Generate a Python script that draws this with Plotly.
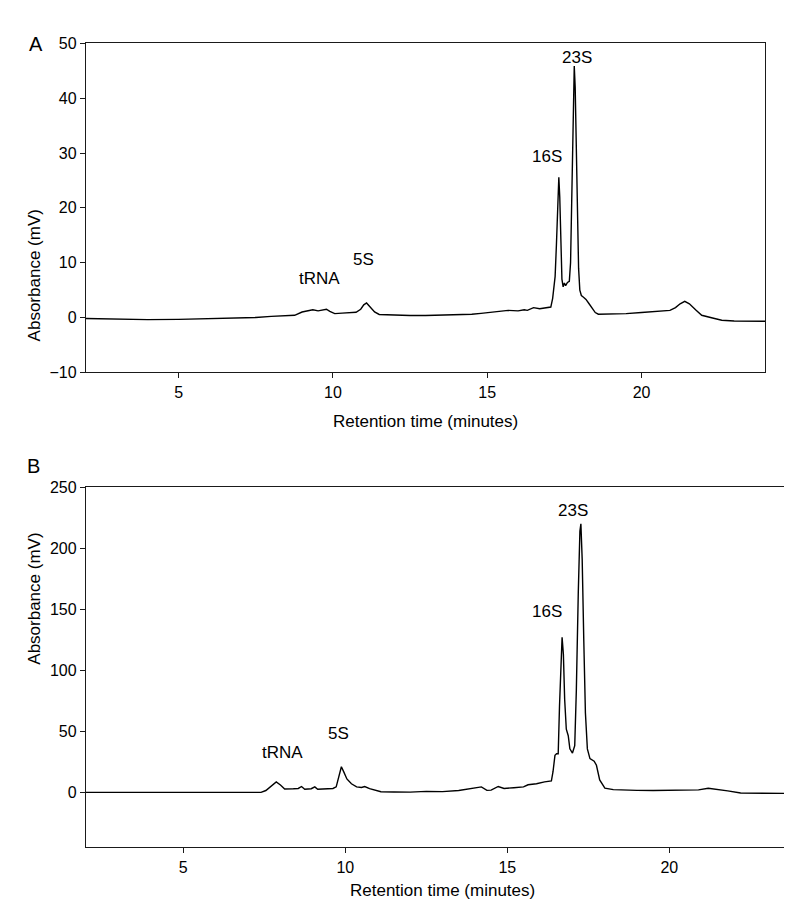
import plotly.graph_objects as go

# ---------------- Panel A data ----------------
a_time = [2.0, 3.0, 4.0, 5.0, 6.0, 7.0, 7.5, 8.0, 8.5, 8.76, 9.0, 9.2, 9.35, 9.52, 9.65, 9.79, 9.9,
          10.06, 10.3, 10.5, 10.75, 10.9, 11.0, 11.09, 11.2, 11.35, 11.5, 12.0, 12.5, 13.0, 13.5,
          14.0, 14.5, 14.8, 15.0, 15.3, 15.68, 16.0, 16.2, 16.3, 16.5, 16.7, 16.9, 17.06, 17.12,
          17.17, 17.2, 17.24, 17.28, 17.32, 17.35, 17.38, 17.42, 17.46, 17.5, 17.54, 17.6, 17.66,
          17.7, 17.74, 17.78, 17.82, 17.85, 17.88, 17.92, 17.96, 18.0, 18.05, 18.12, 18.2, 18.3,
          18.4, 18.5, 18.6, 19.0, 19.5, 20.0, 20.5, 20.92, 21.1, 21.25, 21.4, 21.55, 21.75, 21.95,
          22.3, 22.6, 23.0, 23.5, 24.0]
a_abs = [-0.2, -0.35, -0.4, -0.35, -0.25, -0.1, 0.0, 0.2, 0.3, 0.4, 1.0, 1.3, 1.4, 1.2, 1.35, 1.5, 1.1,
         0.7, 0.8, 0.9, 0.95, 1.5, 2.3, 2.65, 2.0, 1.0, 0.55, 0.4, 0.35, 0.35, 0.4,
         0.45, 0.6, 0.75, 0.85, 1.0, 1.3, 1.2, 1.4, 1.3, 1.8, 1.6, 1.7, 1.9, 3.5,
         6.2, 7.5, 13.0, 20.0, 25.6, 22.0, 14.0, 7.0, 5.6, 6.3, 5.8, 6.4, 6.6,
         10.0, 22.0, 38.0, 45.9, 42.0, 32.0, 18.0, 9.0, 5.0, 4.0, 3.7, 3.3, 2.5,
         1.6, 0.9, 0.6, 0.6, 0.7, 0.9, 1.1, 1.3, 1.8, 2.5, 2.95, 2.5, 1.4, 0.4,
         -0.1, -0.5, -0.65, -0.7, -0.7]

# ---------------- Panel B data ----------------
b_time = [2.0, 7.4, 7.55, 7.7, 7.87, 8.0, 8.13, 8.4, 8.55, 8.65, 8.75, 8.95, 9.06, 9.15, 9.4, 9.62,
          9.72, 9.8, 9.88, 9.95, 10.05, 10.19, 10.35, 10.5, 10.6, 10.75, 11.1, 11.5, 12.0, 12.5,
          13.0, 13.5, 14.0, 14.2, 14.37, 14.5, 14.72, 14.9, 15.2, 15.5, 15.64, 15.9, 16.15, 16.3,
          16.36, 16.41, 16.47, 16.52, 16.57, 16.61, 16.65, 16.69, 16.73, 16.77, 16.82, 16.88,
          16.93, 17.01, 17.08, 17.13, 17.19, 17.24, 17.27, 17.31, 17.36, 17.41, 17.47, 17.55,
          17.68, 17.75, 17.85, 18.01, 18.27, 18.6, 19.0, 19.5, 20.0, 20.5, 20.9, 21.2, 21.5,
          21.8, 22.2, 22.8, 23.5, 24.0]
b_abs = [0.0, 0.0, 1.5, 5.0, 8.5, 6.0, 2.8, 3.0, 3.2, 4.8, 2.5, 3.0, 4.5, 2.6, 3.0, 3.2,
         4.5, 14.0, 21.0, 17.0, 11.0, 7.0, 4.5, 4.0, 4.8, 3.0, 0.5, 0.3, 0.2, 0.8,
         0.6, 1.5, 3.4, 4.5, 1.6, 1.8, 4.8, 3.2, 3.8, 4.5, 6.2, 7.0, 8.6, 9.0,
         9.4, 16.9, 30.3, 31.6, 31.6, 70.5, 108.0, 127.0, 113.0, 75.8, 51.7, 46.4,
         35.6, 32.2, 38.3, 83.8, 164.0, 214.0, 220.0, 191.0, 124.0, 65.0, 35.6, 27.6,
         25.5, 22.2, 10.2, 3.5, 2.2, 1.8, 1.6, 1.5, 1.5, 1.6, 2.0, 3.4, 2.6,
         1.2, -0.5, -0.8, -1.0, -1.0]

# ---------------- Peak labels ----------------
a_labels = ["tRNA", "5S", "16S", "23S"]
a_label_x = [9.58, 10.98, 16.95, 17.9]
a_label_y = [7.2, 10.6, 29.4, 47.5]

b_labels = ["tRNA", "5S", "16S", "23S"]
b_label_x = [8.05, 9.78, 16.21, 17.03]
b_label_y = [32.4, 48.5, 148.0, 231.0]

x_ticks = [5, 10, 15, 20]
a_y_ticks = [-10, 0, 10, 20, 30, 40, 50]
b_y_ticks = [0, 50, 100, 150, 200, 250]

W, H = 792, 917
FONT = "Liberation Sans, Arial, sans-serif"
AXC = "#1a1a1a"

fig = go.Figure()
fig.add_trace(go.Scatter(x=a_time, y=a_abs, mode="lines", line=dict(color="black", width=1.4),
                         xaxis="x", yaxis="y", showlegend=False, hoverinfo="skip"))
fig.add_trace(go.Scatter(x=b_time, y=b_abs, mode="lines", line=dict(color="black", width=1.4),
                         xaxis="x2", yaxis="y2", showlegend=False, hoverinfo="skip"))

def px_x(p):
    return p / W

def px_y(p):
    return 1 - p / H

axis_common = dict(showline=True, linecolor=AXC, linewidth=1.4, mirror=True, ticks="outside",
                   ticklen=5, tickwidth=1, tickcolor=AXC, showgrid=False, zeroline=False,
                   tickfont=dict(family=FONT, size=16, color="black"))

A_l, A_r, A_t, A_b = 78, 757, 28, 363
B_l, B_r, B_t, B_b = 78, 791, 480, 847

fig.update_layout(
    width=W, height=H, margin=dict(l=0, r=0, t=0, b=0),
    paper_bgcolor="white", plot_bgcolor="white",
    xaxis=dict(domain=[px_x(A_l), px_x(A_r)], range=[2, 24], tickvals=x_ticks, anchor="y",
               **axis_common),
    yaxis=dict(domain=[px_y(A_b), px_y(A_t)], range=[-10, 50], tickvals=a_y_ticks, anchor="x",
               **axis_common),
    xaxis2=dict(domain=[px_x(B_l), px_x(B_r)], range=[2, 24], tickvals=x_ticks, anchor="y2",
                **axis_common),
    yaxis2=dict(domain=[px_y(B_b), px_y(B_t)], range=[-45, 250], tickvals=b_y_ticks, anchor="x2",
                **axis_common),
)

ann = []
for t, x, y in zip(a_labels, a_label_x, a_label_y):
    ann.append(dict(text=t, x=x, y=y, xref="x", yref="y", showarrow=False,
                    font=dict(family=FONT, size=17, color="black")))
for t, x, y in zip(b_labels, b_label_x, b_label_y):
    ann.append(dict(text=t, x=x, y=y, xref="x2", yref="y2", showarrow=False,
                    font=dict(family=FONT, size=17, color="black")))

# panel letters
ann.append(dict(text="A", x=px_x(19), y=px_y(15), xref="paper", yref="paper", showarrow=False,
                font=dict(family=FONT, size=20, color="black")))
ann.append(dict(text="B", x=px_x(17), y=px_y(458), xref="paper", yref="paper", showarrow=False,
                font=dict(family=FONT, size=20, color="black")))

# axis titles
for cy in [(A_t + A_b) / 2, (B_t + B_b) / 2]:
    ann.append(dict(text="Absorbance (mV)", x=px_x(15), y=px_y(cy), xref="paper", yref="paper",
                    showarrow=False, textangle=-90,
                    font=dict(family=FONT, size=17, color="black")))
for cx, cy in [((A_l + A_r) / 2, 413), ((B_l + B_r) / 2, 903)]:
    ann.append(dict(text="Retention time (minutes)", x=px_x(cx), y=px_y(cy), xref="paper",
                    yref="paper", showarrow=False,
                    font=dict(family="Liberation Sans Narrow, " + FONT, size=17, color="black")))

fig.update_layout(annotations=ann)
fig.write_html("out.html")
